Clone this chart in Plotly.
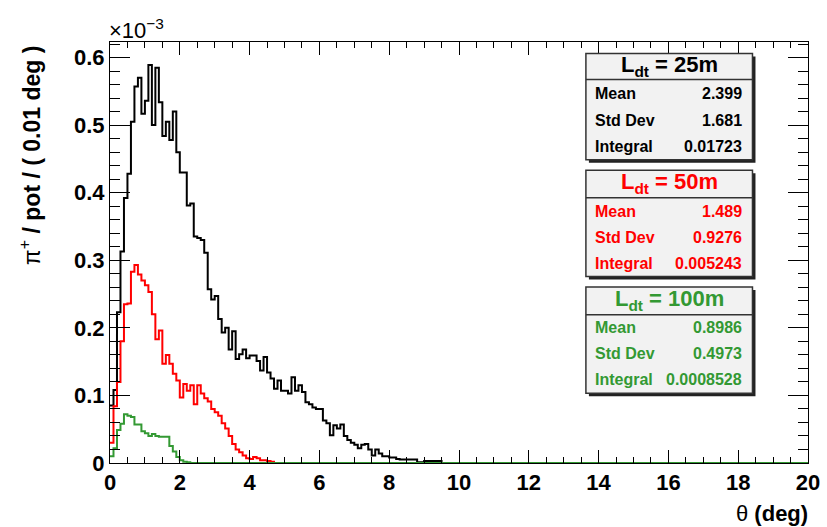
import numpy as np
import plotly.graph_objects as go

# ---- data (bin contents in units of 1e-3 pi+/pot per bin, bins of 0.1 deg from 0) ----
bin_width = 0.1
n_bins = 200

black_25m = [0.085, 0.108, 0.223, 0.313, 0.392, 0.428, 0.505, 0.557, 0.570, 0.517,
             0.536, 0.589, 0.500, 0.585, 0.534, 0.484, 0.505, 0.478, 0.520, 0.460,
             0.430, 0.430, 0.381, 0.384, 0.335, 0.333, 0.330, 0.311, 0.257, 0.242,
             0.247, 0.213, 0.193, 0.200, 0.168, 0.195, 0.154, 0.161, 0.168, 0.155,
             0.159, 0.159, 0.151, 0.137, 0.157, 0.134, 0.125, 0.110, 0.122, 0.107,
             0.107, 0.103, 0.127, 0.107, 0.115, 0.105, 0.090, 0.087, 0.082, 0.080,
             0.080, 0.063, 0.059, 0.041, 0.056, 0.051, 0.057, 0.040, 0.034, 0.030,
             0.027, 0.022, 0.027, 0.028, 0.020, 0.011, 0.020, 0.014, 0.010, 0.010,
             0.008, 0.008, 0.006, 0.005, 0.005, 0.005, 0.005, 0.005, 0.001, 0.001,
             0.003, 0.003, 0.003, 0.003, 0.003]

red_50m = [0.030, 0.084, 0.120, 0.180, 0.235, 0.236, 0.283, 0.293, 0.279, 0.270,
           0.263, 0.253, 0.220, 0.183, 0.196, 0.147, 0.160, 0.147, 0.132, 0.122,
           0.097, 0.117, 0.107, 0.115, 0.087, 0.115, 0.103, 0.096, 0.091, 0.080,
           0.075, 0.070, 0.059, 0.051, 0.040, 0.028, 0.020, 0.016, 0.011, 0.007,
           0.006, 0.009, 0.007, 0.004, 0.004, 0.003, 0.002]

green_100m = [0.0099, 0.022, 0.049, 0.058, 0.072, 0.070, 0.068, 0.057, 0.057, 0.047,
              0.044, 0.040, 0.043, 0.040, 0.039, 0.039, 0.039, 0.025, 0.017, 0.009,
              0.004, 0.002, 0.001]

series_names = ["L_dt = 25m", "L_dt = 50m", "L_dt = 100m"]
series_titles = ["L<sub>dt</sub> = 25m", "L<sub>dt</sub> = 50m", "L<sub>dt</sub> = 100m"]
stat_labels = ["Mean", "Std Dev", "Integral"]
stat_25m = ["2.399", "1.681", "0.01723"]
stat_50m = ["1.489", "0.9276", "0.005243"]
stat_100m = ["0.8986", "0.4973", "0.0008528"]

x_tick_vals = [0, 2, 4, 6, 8, 10, 12, 14, 16, 18, 20]
y_tick_vals = [0, 0.1, 0.2, 0.3, 0.4, 0.5, 0.6]

colors = ["#000000", "#ff0000", "#339933"]
FONT = "Liberation Sans, Arial, Helvetica, sans-serif"

# ---- geometry helpers (pixel -> paper) ----
W, H = 827, 527
PX0, PX1 = 110.3, 808.0
PY0, PY1 = 463.0, 42.5


def px(x):
    return (x - PX0) / (PX1 - PX0)


def py(y):
    return (PY0 - y) / (PY0 - PY1)


edges = np.arange(n_bins + 1) * bin_width

fig = go.Figure()
for vals, col, name in zip([black_25m, red_50m, green_100m], colors, series_names):
    content = np.zeros(n_bins)
    content[:len(vals)] = vals
    yv = np.append(content, content[-1])
    fig.add_trace(go.Scatter(x=edges, y=yv, mode="lines", line=dict(color=col, width=2, shape="hv"),
                             name=name, showlegend=False, hoverinfo="skip"))

axis_common = dict(showline=True, linecolor="black", linewidth=1, mirror="allticks",
                   ticks="inside", tickcolor="black", tickwidth=1, showgrid=False, zeroline=False,
                   automargin=False,
                   tickfont=dict(family=FONT, size=22, color="black", weight="bold"))

fig.update_xaxes(range=[0, 20], tickvals=x_tick_vals, ticklen=13,
                 minor=dict(ticks="inside", dtick=0.5, ticklen=6, tickcolor="black"),
                 **axis_common)
fig.update_yaxes(range=[0, 0.623], tickvals=y_tick_vals, ticklen=20,
                 minor=dict(ticks="inside", dtick=0.02, ticklen=10, tickcolor="black"),
                 **axis_common)

shapes = []
annotations = []

# stat boxes
boxes = [
    (54.0, 80.0, 160.0, [94.3, 120.7, 147.0], 66.0, stat_25m),
    (170.7, 198.0, 276.7, [211.7, 238.0, 263.5], 183.0, stat_50m),
    (287.3, 315.0, 393.3, [327.7, 353.5, 380.0], 300.0, stat_100m),
]
BX0, BX1 = 586.0, 752.5
for (top, sep, bot, rows, ty, stats), col, title in zip(boxes, colors, series_titles):
    # shadow
    shapes.append(dict(type="rect", xref="paper", yref="paper",
                       x0=px(BX0 + 3), x1=px(BX1 + 3), y0=py(bot + 3), y1=py(top + 3),
                       fillcolor="#222222", line=dict(width=0), layer="above"))
    shapes.append(dict(type="rect", xref="paper", yref="paper",
                       x0=px(BX0), x1=px(BX1), y0=py(bot), y1=py(top),
                       fillcolor="#f2f2f2", line=dict(color="#333333", width=1.5), layer="above"))
    shapes.append(dict(type="line", xref="paper", yref="paper",
                       x0=px(BX0), x1=px(BX1), y0=py(sep), y1=py(sep),
                       line=dict(color="#333333", width=1.5), layer="above"))
    annotations.append(dict(text="<b>" + title + "</b>", xref="paper", yref="paper",
                            x=px((BX0 + BX1) / 2), y=py(ty), xanchor="center", yanchor="middle",
                            showarrow=False, font=dict(family=FONT, size=22, color=col)))
    for lab, val, ry in zip(stat_labels, stats, rows):
        annotations.append(dict(text="<b>" + lab + "</b>", xref="paper", yref="paper",
                                x=px(BX0 + 7), y=py(ry), xanchor="left", yanchor="middle",
                                showarrow=False, font=dict(family=FONT, size=16, color=col)))
        annotations.append(dict(text="<b>" + val + "</b>", xref="paper", yref="paper",
                                x=px(BX1 - 8), y=py(ry), xanchor="right", yanchor="middle",
                                showarrow=False, font=dict(family=FONT, size=16, color=col)))

# axis titles and exponent
annotations.append(dict(text="π<sup>+</sup><b> / pot / ( 0.01 deg )</b>", xref="paper", yref="paper",
                        x=px(30), y=py(44), xanchor="center", yanchor="top", textangle=-90,
                        showarrow=False, font=dict(family=FONT, size=23, color="black")))
annotations.append(dict(text="θ<b> (deg)</b>", xref="paper", yref="paper",
                        x=px(810), y=py(513), xanchor="right", yanchor="middle",
                        showarrow=False, font=dict(family=FONT, size=22, color="black")))
annotations.append(dict(text="×10<sup>−3</sup>", xref="paper", yref="paper",
                        x=px(107), y=py(30), xanchor="left", yanchor="middle",
                        showarrow=False, font=dict(family=FONT, size=22, color="black")))

fig.update_layout(width=W, height=H, margin=dict(l=110, r=19, t=42, b=64, pad=0),
                  autosize=False,
                  paper_bgcolor="white", plot_bgcolor="white", showlegend=False,
                  shapes=shapes, annotations=annotations,
                  font=dict(family=FONT, color="black"))

fig.write_html("out.html", config={"displayModeBar": False, "responsive": False},
               post_script="document.body.style.margin='0px';document.body.style.padding='0px';"
                           "document.body.style.overflow='hidden';")
